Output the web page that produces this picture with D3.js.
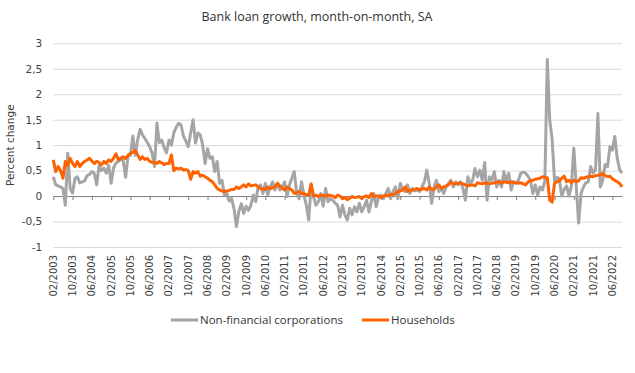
<!DOCTYPE html>
<html>
<head>
<meta charset="utf-8">
<script src="https://cdn.jsdelivr.net/npm/d3@7"></script>
<style>
  body { margin: 0; background: #fff; }
  svg { display: block; }
  .tick-y { font-family: "DejaVu Sans", sans-serif; font-size: 10.5px; fill: #404040; }
  .tick-x { font-family: "DejaVu Sans", sans-serif; font-size: 10px; fill: #404040; }
  .title, .legend { font-family: "Open Sans", sans-serif; fill: #333; }
</style>
</head>
<body>
<svg id="chart" width="635" height="373"></svg>
<script>
// monthly data, first month 02/2003
const startYear = 2003;
const startMonth = 2;

const nonFinancial = [
  0.38, 0.22, 0.2, 0.18, 0.15, -0.18, 0.84, 0.15, 0.06, 0.35,
  0.38, 0.26, 0.28, 0.3, 0.4, 0.42, 0.48, 0.45, 0.22, 0.6,
  0.5, 0.55, 0.45, 0.6, 0.25, 0.55, 0.65, 0.68, 0.72, 0.7,
  0.37, 0.78, 0.8, 1.18, 0.8, 1.1, 1.31, 1.2, 1.13, 1.05,
  0.97, 0.84, 0.58, 1.43, 1.05, 1.1, 0.95, 0.85, 1.1, 1.0,
  1.24, 1.35, 1.43, 1.4, 1.18, 1.08, 0.97, 1.24, 1.5, 1.04,
  1.24, 1.2, 1.0, 0.64, 0.93, 0.74, 0.77, 0.48, 0.68, 0.25,
  0.31, 0.02, 0.05, -0.1, -0.05, -0.25, -0.6, -0.3, -0.15, -0.34,
  -0.2, -0.28, -0.18, 0.02, -0.11, 0.18, 0.22, 0.05, 0.25, 0.02,
  0.18, 0.28, 0.12, 0.25, 0.12, 0.18, 0.28, -0.01, 0.22, 0.35,
  0.48, 0.05, -0.05, 0.28, 0.02, -0.18, -0.47, 0.22, -0.01, -0.18,
  -0.11, 0.05, -0.2, 0.15, -0.11, -0.05, -0.08, -0.14, -0.18, -0.41,
  -0.18, -0.37, -0.47, -0.24, -0.37, -0.21, -0.31, -0.14, -0.31, -0.21,
  -0.08, -0.31, -0.11, 0.05, -0.21, -0.01, 0.02, -0.05, 0.05, 0.15,
  -0.05, 0.09, 0.18, -0.05, 0.25, 0.12, 0.09, 0.22, 0.05, 0.15,
  0.1, 0.12, 0.09, 0.18, 0.28, 0.51, 0.25, -0.14, 0.18, 0.31,
  0.09, 0.15, 0.05, 0.18, 0.25, 0.31, 0.18, 0.28, 0.22, 0.28,
  0.15, -0.08, 0.38, 0.25, 0.31, 0.54, 0.38, 0.51, 0.31, 0.66,
  -0.08, 0.38, 0.31, 0.48, 0.18, 0.31, 0.18, 0.48, 0.28, 0.45,
  0.12, 0.28, 0.25, 0.31, 0.45, 0.47, 0.45, 0.39, 0.31, 0.05,
  0.22, 0.02, 0.18, 0.12, 0.3, 2.68, 1.5, 1.12, 0.3, 0.37,
  0.34, 0.0, 0.13, 0.2, 0.0, 0.2, 0.94, 0.2, -0.53, 0.05,
  0.18, 0.26, 0.28, 0.58, 0.45, 0.52, 1.62, 0.18, 0.31, 0.62,
  0.58, 0.97, 0.9, 1.17, 0.75, 0.52, 0.45
];

const households = [
  0.71, 0.48, 0.58, 0.5, 0.35, 0.68, 0.6, 0.74, 0.64, 0.58,
  0.68, 0.58, 0.64, 0.68, 0.71, 0.74, 0.69, 0.64, 0.68, 0.66,
  0.61, 0.68, 0.64, 0.71, 0.68, 0.74, 0.83, 0.71, 0.74, 0.77,
  0.74, 0.8, 0.84, 0.86, 0.9, 0.81, 0.72, 0.77, 0.72, 0.74,
  0.68, 0.66, 0.66, 0.64, 0.68, 0.65, 0.62, 0.64, 0.64, 0.81,
  0.5, 0.55, 0.53, 0.55, 0.51, 0.52, 0.5, 0.33, 0.48, 0.45,
  0.48, 0.39, 0.41, 0.38, 0.35, 0.31, 0.28, 0.22, 0.15, 0.12,
  0.1, 0.09, 0.1, 0.11, 0.13, 0.13, 0.18, 0.15, 0.18, 0.22,
  0.18, 0.24, 0.2, 0.21, 0.22, 0.18, 0.15, 0.14, 0.13, 0.18,
  0.15, 0.16, 0.18, 0.25, 0.2, 0.15, 0.12, 0.18, 0.15, 0.12,
  0.05, 0.07, 0.09, 0.05, 0.05, 0.03, 0.02, 0.24, 0.0, 0.02,
  -0.01, 0.02, 0.01, 0.0, 0.02, 0.01, 0.0, -0.03, 0.02, 0.0,
  -0.05, -0.03, -0.07, -0.04, -0.01, -0.03, -0.02, -0.01, -0.05, -0.01,
  0.0, -0.03, 0.05, -0.01, 0.0, 0.0, -0.03, 0.0, 0.02, 0.0,
  0.03, 0.03, 0.05, 0.09, 0.1, 0.12, 0.18, 0.09, 0.12, 0.12,
  0.13, 0.15, 0.12, 0.14, 0.15, 0.12, 0.18, 0.13, 0.13, 0.18,
  0.22, 0.15, 0.18, 0.2, 0.22, 0.28, 0.24, 0.24, 0.25, 0.26,
  0.24, 0.22, 0.2, 0.21, 0.22, 0.2, 0.26, 0.25, 0.24, 0.26,
  0.25, 0.24, 0.25, 0.26, 0.27, 0.28, 0.25, 0.28, 0.27, 0.26,
  0.28, 0.27, 0.26, 0.25, 0.26, 0.24, 0.22, 0.28, 0.3, 0.31,
  0.33, 0.34, 0.35, 0.38, 0.37, 0.36, -0.08, -0.12, 0.25, 0.28,
  0.3, 0.35, 0.39, 0.28, 0.31, 0.26, 0.31, 0.28, 0.3, 0.36,
  0.35, 0.37, 0.38, 0.39, 0.38, 0.4, 0.41, 0.42, 0.45, 0.4,
  0.38, 0.39, 0.34, 0.31, 0.28, 0.25, 0.18
];

const yTicks = [-1, -0.5, 0, 0.5, 1, 1.5, 2, 2.5, 3];
const seriesNames = ["Non-financial corporations", "Households"];
const seriesColors = ["#a5a5a5", "#ff6200"];

const months = nonFinancial.map((d, i) => {
  const m = (startMonth - 1 + i) % 12 + 1;
  const y = startYear + Math.floor((startMonth - 1 + i) / 12);
  return String(m).padStart(2, "0") + "/" + y;
});
const tickLabels = months.filter((d, i) => i % 8 === 0);

const svg = d3.select("#chart");
const margin = { top: 43.3, right: 13, bottom: 126, left: 53.3 };
const width = 635, height = 373;

const x = d3.scalePoint()
  .domain(months)
  .range([margin.left, width - margin.right]);

const y = d3.scaleLinear()
  .domain([-1, 3])
  .range([height - margin.bottom, margin.top]);

const fmt = (v) => String(v).replace(".", ",");

// title
svg.append("text")
  .attr("class", "title")
  .attr("x", 317)
  .attr("y", 21)
  .attr("text-anchor", "middle")
  .style("font-size", "12.5px")
  .text("Bank loan growth, month-on-month, SA");

// gridlines + y labels
const yAxis = svg.append("g")
  .attr("transform", `translate(${margin.left},0)`)
  .call(d3.axisLeft(y).tickValues(yTicks).tickFormat(fmt)
    .tickSize(-(width - margin.right - margin.left)).tickPadding(11));
yAxis.select(".domain").remove();
yAxis.selectAll(".tick line")
  .attr("stroke", (d) => d === 0 ? "none" : "#d9d9d9")
  .attr("stroke-width", 1);
yAxis.selectAll(".tick text").attr("class", "tick-y");

// y title
svg.append("text")
  .attr("class", "tick-y")
  .attr("transform", `translate(14,${(y(-1) + y(3)) / 2}) rotate(-90)`)
  .attr("text-anchor", "middle")
  .style("font-size", "10.5px")
  .text("Percent change");

// zero axis with ticks
const xAxis = svg.append("g")
  .attr("transform", `translate(0,${y(0)})`)
  .call(d3.axisBottom(x).tickValues(tickLabels).tickSize(4).tickSizeOuter(0).tickFormat(""));
xAxis.select(".domain").attr("stroke", "#7f7f7f");
xAxis.selectAll(".tick line").attr("stroke", "#7f7f7f");

// x labels below plot
svg.append("g")
  .selectAll("text")
  .data(tickLabels)
  .join("text")
  .attr("class", "tick-x")
  .attr("transform", (d) => `translate(${x(d) + 3.5},${y(-1) + 8}) rotate(-90)`)
  .attr("text-anchor", "end")
  .text((d) => d);

// lines
const line = d3.line()
  .x((d, i) => x(months[i]))
  .y((d) => y(d));

[nonFinancial, households].forEach((s, k) => {
  svg.append("path")
    .datum(s)
    .attr("fill", "none")
    .attr("stroke", seriesColors[k])
    .attr("stroke-width", 3)
    .attr("stroke-linejoin", "round")
    .attr("d", line);
});

// legend
const legendX = [171, 362];
seriesNames.forEach((name, k) => {
  const g = svg.append("g").attr("transform", `translate(${legendX[k]},320)`);
  g.append("line")
    .attr("x1", 0).attr("x2", 27)
    .attr("stroke", seriesColors[k])
    .attr("stroke-width", 3);
  g.append("text")
    .attr("class", "legend")
    .attr("x", 29)
    .attr("y", 4.2)
    .style("font-size", "11.5px")
    .text(name);
});
</script>
</body>
</html>
